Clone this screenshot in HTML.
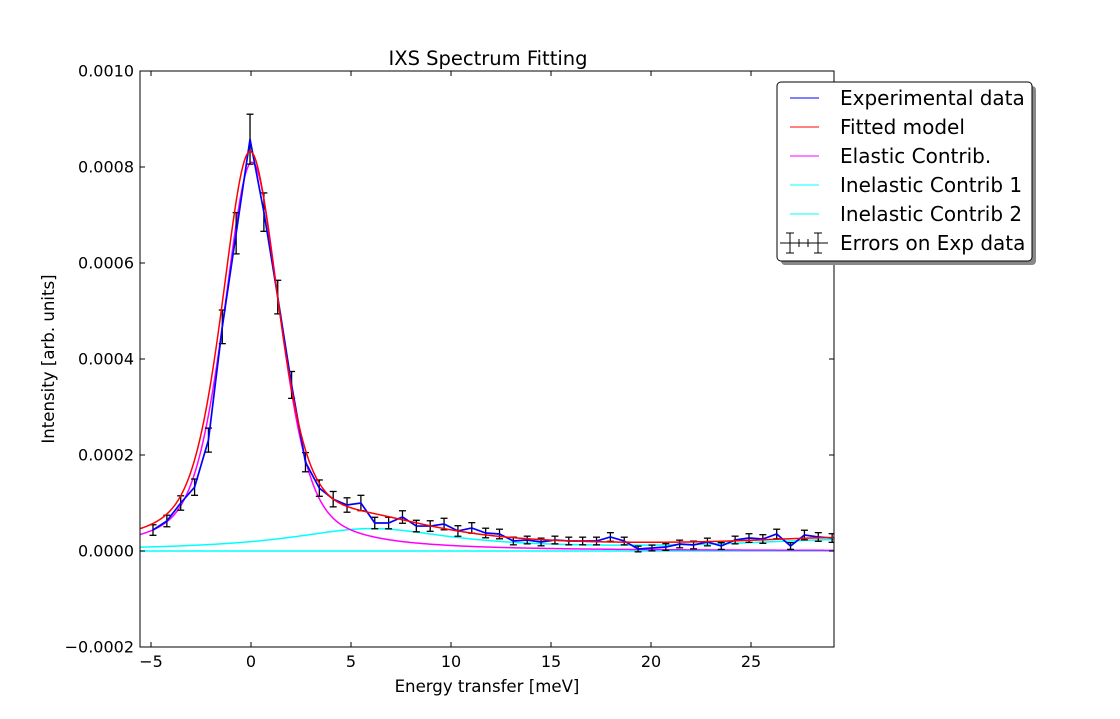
<!DOCTYPE html>
<html><head><meta charset="utf-8"><style>
html,body{margin:0;padding:0;background:#fff;}
svg{display:block;font-family:"DejaVu Sans","Liberation Sans",sans-serif;}
</style></head><body>
<svg id="chart" width="1120" height="719" xmlns="http://www.w3.org/2000/svg">
<rect width="1120" height="719" fill="#fff"/>
<text x="488" y="65" font-size="19.5" text-anchor="middle">IXS Spectrum Fitting</text>
<text x="487" y="692" font-size="16.6" text-anchor="middle">Energy transfer [meV]</text>
<text transform="translate(54,359) rotate(-90)" font-size="16.6" text-anchor="middle">Intensity [arb. units]</text>
<g id="plot"></g>
<g id="legend">
  <rect x="781" y="86" width="255" height="179" rx="4" fill="#888"/>
  <rect x="777" y="82" width="255" height="179" rx="4" fill="#fff" stroke="#000" stroke-width="1"/>
  <g font-size="20">
    <line x1="790" y1="98" x2="819" y2="98" stroke="#0000ff"/>
    <text x="840" y="105">Experimental data</text>
    <line x1="790" y1="127" x2="819" y2="127" stroke="#ff0000"/>
    <text x="840" y="134">Fitted model</text>
    <line x1="790" y1="156" x2="819" y2="156" stroke="#ff00ff"/>
    <text x="840" y="163">Elastic Contrib.</text>
    <line x1="790" y1="185" x2="819" y2="185" stroke="#00ffff"/>
    <text x="840" y="192">Inelastic Contrib 1</text>
    <line x1="790" y1="214" x2="819" y2="214" stroke="#00ffff"/>
    <text x="840" y="221">Inelastic Contrib 2</text>
    <g stroke="#000">
      <line x1="780" y1="243" x2="828" y2="243"/>
      <line x1="790" y1="233" x2="790" y2="253"/><line x1="786" y1="233" x2="794" y2="233"/><line x1="786" y1="253" x2="794" y2="253"/>
      <line x1="818" y1="233" x2="818" y2="253"/><line x1="814" y1="233" x2="822" y2="233"/><line x1="814" y1="253" x2="822" y2="253"/>
      <line x1="799" y1="239" x2="799" y2="247"/><line x1="808" y1="239" x2="808" y2="247"/>
    </g>
    <text x="840" y="250">Errors on Exp data</text>
  </g>
</g>
</svg>
<script>
const xStart = -4.9, xStep = 0.693;
const expY = [0.0000437,0.0000625,0.0001,0.000133,0.000231,0.000467,0.000662,0.000858,0.000706,0.000529,0.000346,0.000185,0.000131,0.000108,0.0000958,0.0001,0.0000583,0.0000583,0.0000708,0.000052,0.000052,0.0000562,0.0000417,0.000048,0.0000375,0.0000354,0.0000208,0.0000229,0.0000188,0.0000229,0.0000208,0.0000208,0.0000208,0.0000292,0.0000208,0.0000042,0.0000063,0.0000083,0.0000146,0.0000125,0.0000188,0.0000104,0.0000229,0.000027,0.000025,0.0000354,0.0000104,0.0000333,0.0000292,0.000027];
const expErr = [0.000011,0.000012,0.000015,0.000017,0.000025,0.000035,0.000043,0.000052,0.000040,0.000035,0.000028,0.000020,0.000017,0.000016,0.000015,0.000016,0.000012,0.000012,0.000013,0.000012,0.000011,0.000012,0.000011,0.000011,0.000010,0.000010,0.000008,0.000008,0.000008,0.000008,0.000008,0.000008,0.000008,0.000009,0.000008,0.000006,0.000006,0.000007,0.000008,0.000008,0.000008,0.000007,0.000008,0.000009,0.000009,0.00001,0.000007,0.00001,0.000009,0.000009];
const elasticParams = [0.00081, 0.05, 1.7, 0.5]; // height, centre, hwhm, lorentz fraction
const inel1Params = [0.000045, 6.0, 5.0, 0.000022, 30.0, 7.0];
const bgLevel = 0.000003;
const xTicks = [-5,0,5,10,15,20,25];
const yTicks = [-0.0002,0,0.0002,0.0004,0.0006,0.0008,0.001];
const yTickLabels = ["\u22120.0002","0.0000","0.0002","0.0004","0.0006","0.0008","0.0010"];

const L=140,R=834,T=71,B=647, xmin=-5.55, xmax=29.15, ymin=-0.0002, ymax=0.001;
const sx = x => L + (x-xmin)/(xmax-xmin)*(R-L);
const sy = y => B - (y-ymin)/(ymax-ymin)*(B-T);
const NS="http://www.w3.org/2000/svg";
const g=document.getElementById('plot');
function mk(tag, attrs){const e=document.createElementNS(NS,tag);for(const k in attrs)e.setAttribute(k,attrs[k]);return e;}
const lor=(x,h,c,w)=>h/(1+((x-c)/w)**2);
const elastic=x=>{const [h,c,w,eta]=elasticParams;return eta*lor(x,h,c,w)+(1-eta)*h*Math.exp(-Math.LN2*((x-c)/w)**2);};
const inel1=x=>lor(x,inel1Params[0],inel1Params[1],inel1Params[2])+lor(x,inel1Params[3],inel1Params[4],inel1Params[5]);
const inel2=x=>0;
const fit=x=>elastic(x+0.1)+inel1(x)+bgLevel;

const clip=mk('clipPath',{id:'pc'});clip.appendChild(mk('rect',{x:L,y:T,width:R-L,height:B-T}));g.appendChild(clip);
const cg=mk('g',{'clip-path':'url(#pc)'});g.appendChild(cg);

function curve(f,color,name){
  let d='';for(let i=0;i<=700;i++){const x=xmin+(xmax-xmin)*i/700;d+=(i?'L':'M')+sx(x).toFixed(2)+','+sy(f(x)).toFixed(2);}
  const p=mk('path',{d:d,fill:'none',stroke:color,'stroke-width':1.5});
  
  
  cg.appendChild(p);
}
curve(inel2,'#00ffff','inelastic-contrib-2-line');
curve(inel1,'#00ffff','inelastic-contrib-1-line');
curve(elastic,'#ff00ff','elastic-contrib-line');

const eg=mk('g',{stroke:'#000','stroke-width':1.3});


cg.appendChild(eg);
expY.forEach((y,i)=>{
  const x=sx(xStart+i*xStep), y1=sy(y-expErr[i]), y2=sy(y+expErr[i]);
  eg.appendChild(mk('line',{x1:x,y1:y1,x2:x,y2:y2}));
  eg.appendChild(mk('line',{x1:x-3.5,y1:y1,x2:x+3.5,y2:y1}));
  eg.appendChild(mk('line',{x1:x-3.5,y1:y2,x2:x+3.5,y2:y2}));
});
let d='';expY.forEach((y,i)=>{d+=(i?'L':'M')+sx(xStart+i*xStep).toFixed(2)+','+sy(y).toFixed(2);});
const ep=mk('path',{d:d,fill:'none',stroke:'#0000ff','stroke-width':1.7});


cg.appendChild(ep);
curve(fit,'#ff0000','fitted-model-line');

const fr=mk('rect',{x:L,y:T,width:R-L,height:B-T,fill:'none',stroke:'#000','stroke-width':1});


g.appendChild(fr);
xTicks.forEach(t=>{
  const x=sx(t);
  g.appendChild(mk('line',{x1:x,y1:B,x2:x,y2:B-5,stroke:'#000'}));
  g.appendChild(mk('line',{x1:x,y1:T,x2:x,y2:T+5,stroke:'#000'}));
  const tx=mk('text',{x:x,y:B+20,'font-size':16,'text-anchor':'middle'});
  tx.textContent=(t<0?'\u2212'+(-t):String(t));
  
  
  g.appendChild(tx);
});
yTicks.forEach((t,i)=>{
  const y=sy(t);
  g.appendChild(mk('line',{x1:L,y1:y,x2:L+5,y2:y,stroke:'#000'}));
  g.appendChild(mk('line',{x1:R,y1:y,x2:R-5,y2:y,stroke:'#000'}));
  const tx=mk('text',{x:L-6,y:y+5.5,'font-size':16,'text-anchor':'end'});
  tx.textContent=yTickLabels[i];
  
  
  g.appendChild(tx);
});
</script>
</body></html>
